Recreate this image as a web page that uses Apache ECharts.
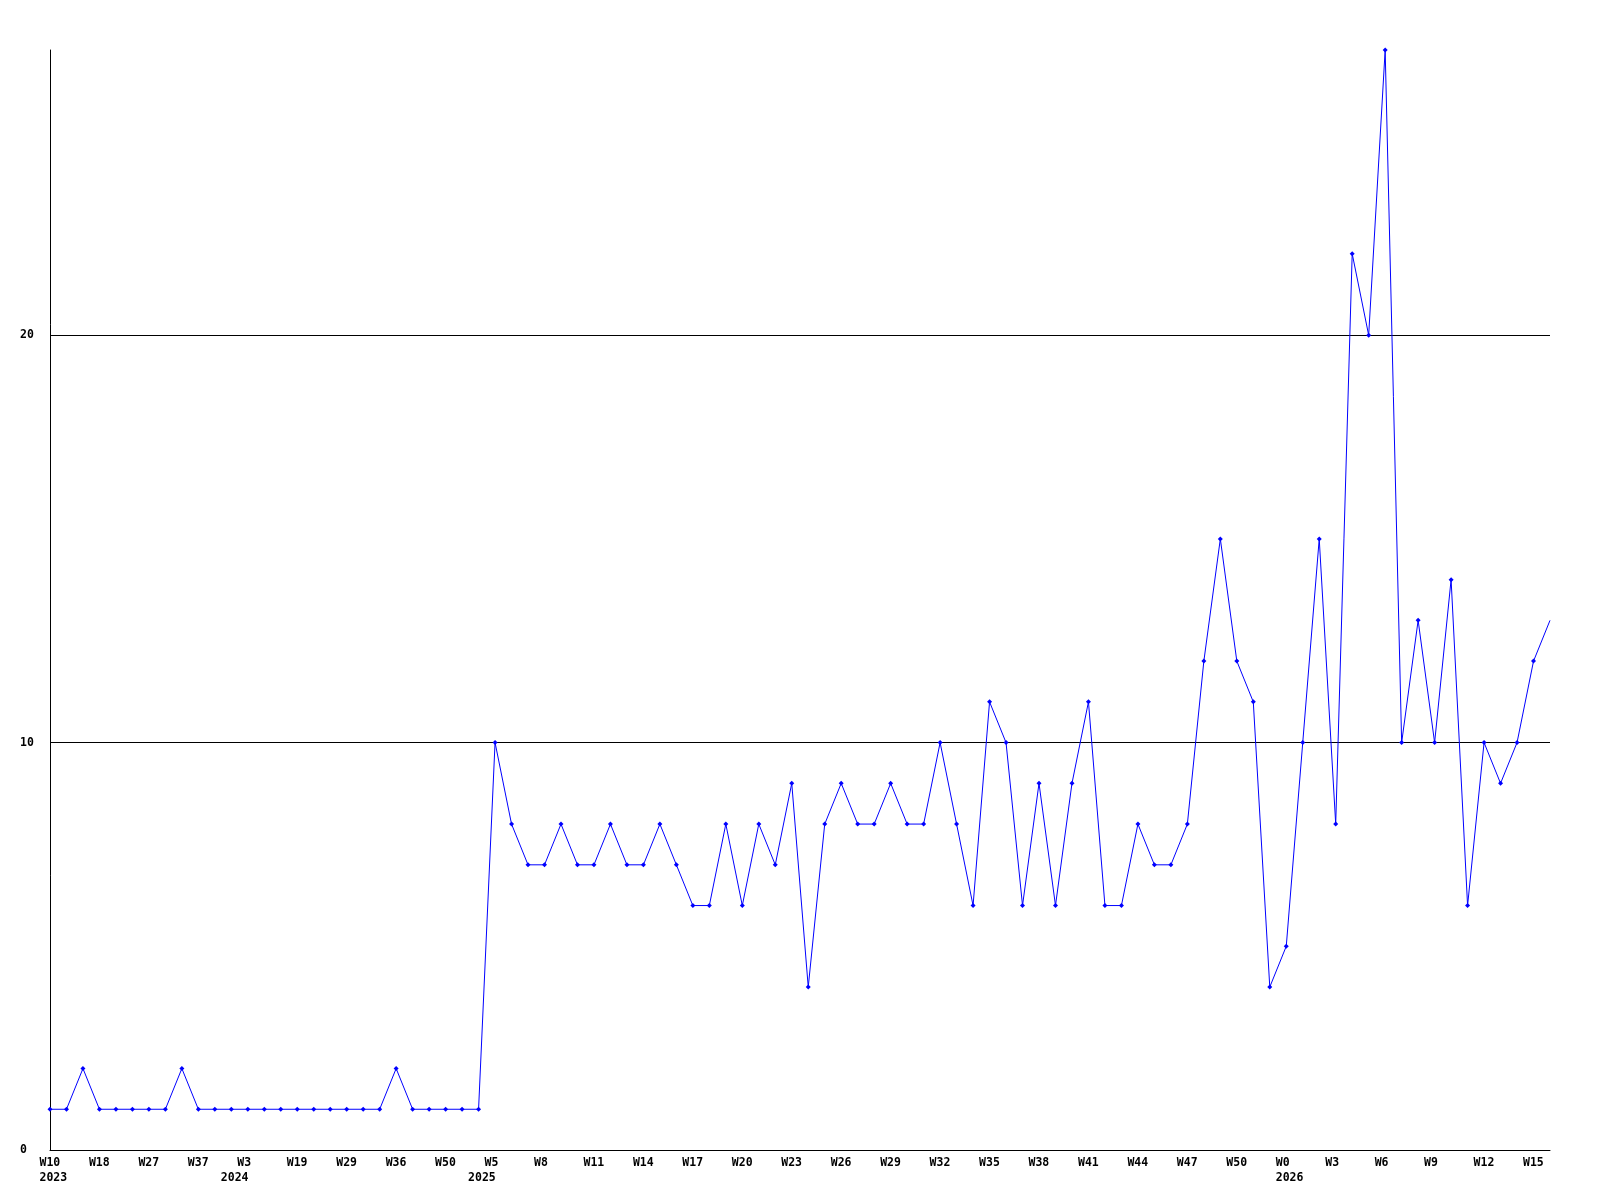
<!DOCTYPE html>
<html>
<head>
<meta charset="utf-8">
<script src="https://cdn.jsdelivr.net/npm/echarts@6/dist/echarts.min.js"></script>
<style>
  html, body { margin: 0; padding: 0; background: #fff; }
  #chart { width: 1600px; height: 1200px; }
</style>
</head>
<body>
<div id="chart"></div>
<script>
  // week labels shown on every 3rd point
  const tickWeeks = ['W10', 'W18', 'W27', 'W37', 'W3', 'W19', 'W29', 'W36', 'W50', 'W5',
    'W8', 'W11', 'W14', 'W17', 'W20', 'W23', 'W26', 'W29', 'W32', 'W35',
    'W38', 'W41', 'W44', 'W47', 'W50', 'W0', 'W3', 'W6', 'W9', 'W12', 'W15']
  // year printed under the first point of each year (point index -> year)
  const yearStarts = { 0: '2023', 11: '2024', 26: '2025', 75: '2026' }

  // weekly counts, one per point
  const counts = [
    1, 1, 2, 1, 1, 1, 1, 1, 2, 1,
    1, 1, 1, 1, 1, 1, 1, 1, 1, 1,
    1, 2, 1, 1, 1, 1, 1, 10, 8, 7,
    7, 8, 7, 7, 8, 7, 7, 8, 7, 6,
    6, 8, 6, 8, 7, 9, 4, 8, 9, 8,
    8, 9, 8, 8, 10, 8, 6, 11, 10, 6,
    9, 6, 9, 11, 6, 6, 8, 7, 7, 8,
    12, 15, 12, 11, 4, 5, 10, 15, 8, 22,
    20, 27, 10, 13, 10, 14, 6, 10, 9, 10,
    12, 13
  ]

  const yMin = 0
  const yMax = 27
  const yStep = 10

  const categories = counts.map((v, i) => {
    const week = i % 3 === 0 ? tickWeeks[i / 3] : ''
    const year = yearStarts[i]
    if (year) return (week || ' ') + '\n' + year
    return week
  })

  const font = 'DejaVu Sans Mono'
  const chart = echarts.init(document.getElementById('chart'), null, { renderer: 'canvas' })

  chart.setOption({
    animation: false,
    backgroundColor: '#ffffff',
    grid: {
      left: 50,
      right: 50,
      top: 50,
      bottom: 50
    },
    xAxis: {
      type: 'category',
      data: categories,
      boundaryGap: false,
      axisLine: { show: true, lineStyle: { color: '#000', width: 1 } },
      axisTick: { show: false },
      splitLine: { show: false },
      axisLabel: {
        interval: (index, value) => value !== '',
        margin: 6,
        // every label starts at the same offset left of its point
        formatter: (value) => value.split('\n').map(s => '{w|' + s + '}').join('\n'),
        rich: {
          w: {
            width: 21,
            align: 'left',
            color: '#000',
            fontFamily: font,
            fontWeight: 'bold',
            fontSize: 11.5,
            lineHeight: 15
          }
        }
      }
    },
    yAxis: {
      type: 'value',
      min: yMin,
      max: yMax,
      interval: yStep,
      axisLine: { show: true, lineStyle: { color: '#000', width: 1 } },
      axisTick: { show: false },
      splitLine: {
        show: true,
        showMaxLine: false,
        lineStyle: { color: '#000', width: 1 }
      },
      axisLabel: {
        showMaxLabel: false,
        align: 'left',
        margin: 30,
        color: '#000',
        fontFamily: font,
        fontWeight: 'bold',
        fontSize: 11.5
      }
    },
    series: [
      {
        type: 'line',
        // last week is still running, no marker on it
        data: counts.map((v, i) => i === counts.length - 1 ? { value: v, symbol: 'none' } : v),
        showAllSymbol: true,
        symbol: 'diamond',
        symbolSize: 5,
        lineStyle: { color: '#0000ff', width: 1 },
        itemStyle: { color: '#0000ff' },
        emphasis: { disabled: true }
      }
    ]
  })
</script>
</body>
</html>
